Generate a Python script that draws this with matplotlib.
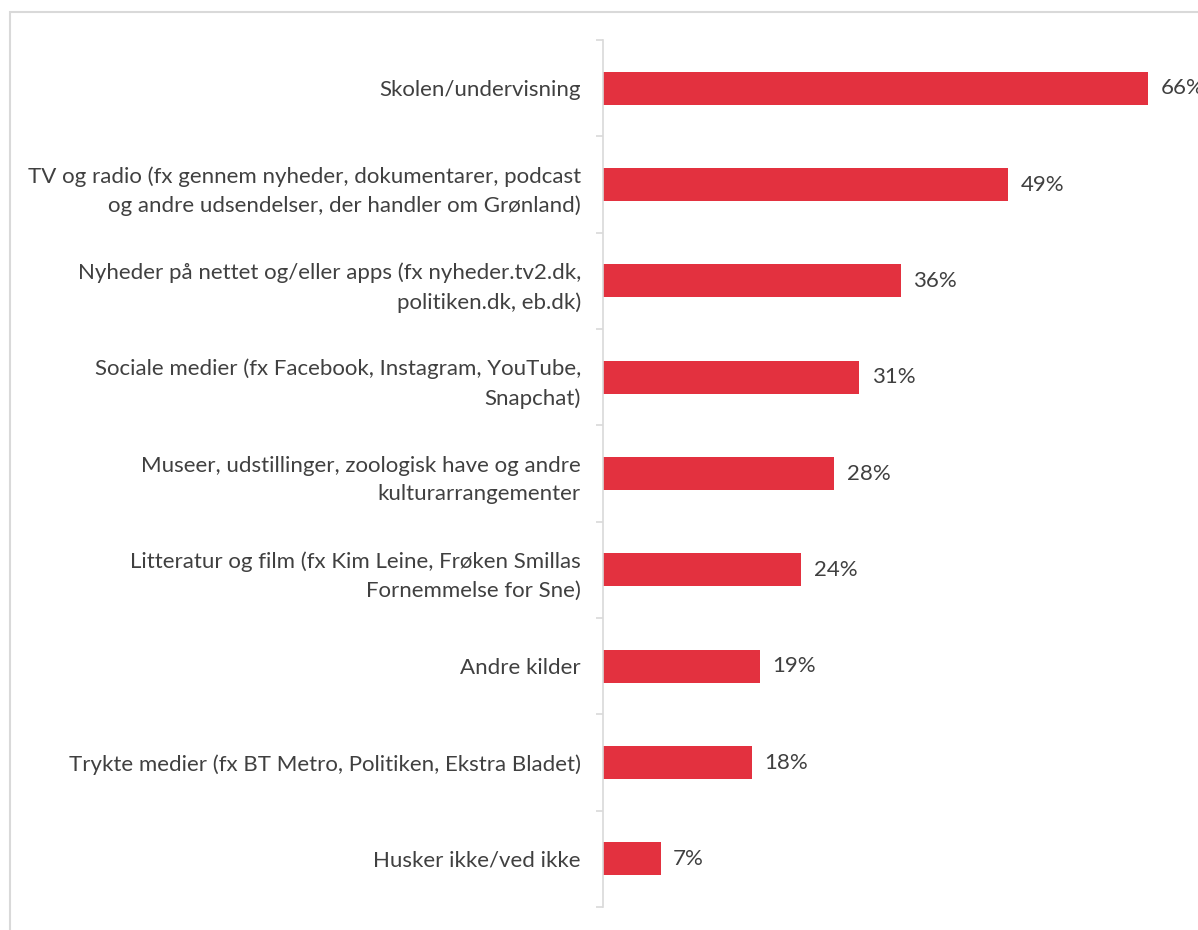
import numpy as np
import matplotlib.pyplot as plt
from matplotlib.patches import Rectangle

categories = [
    "Skolen/undervisning",
    "TV og radio (fx gennem nyheder, dokumentarer, podcast\nog andre udsendelser, der handler om Grønland)",
    "Nyheder på nettet og/eller apps (fx nyheder.tv2.dk,\npolitiken.dk, eb.dk)",
    "Sociale medier (fx Facebook, Instagram, YouTube,\nSnapchat)",
    "Museer, udstillinger, zoologisk have og andre\nkulturarrangementer",
    "Litteratur og film (fx Kim Leine, Frøken Smillas\nFornemmelse for Sne)",
    "Andre kilder",
    "Trykte medier (fx BT Metro, Politiken, Ekstra Bladet)",
    "Husker ikke/ved ikke",
]
values = [66, 49, 36, 31, 28, 24, 19, 18, 7]

BAR = "#e3313f"
TXT = "#404040"
GRID = "#d9d9d9"

plt.rcParams["font.family"] = ["Lato", "DejaVu Sans"]

fig = plt.figure(figsize=(11.98, 9.30), dpi=100)
fig.patches.append(Rectangle((10 / 1198, -0.05), 1.2, 0.05 + (930 - 12) / 930,
                             transform=fig.transFigure, fill=False,
                             edgecolor=GRID, linewidth=1.5))
ax = fig.add_axes([603 / 1198, 23 / 930, 1 - 603 / 1198, 867 / 930])

y = np.arange(len(categories))
ax.barh(y, values, height=0.34, color=BAR)
ax.set_ylim(len(categories) - 0.5, -0.5)
ax.set_xlim(0, 72)

# value labels (the 66% one runs off the right edge, as in the original)
for yi, v in zip(y, values):
    ax.text(v + 1.5, yi, f"{v}%", va="center", ha="left",
            fontsize=16, color=TXT, clip_on=False)

ax.set_yticks(y)
ax.set_yticklabels(categories, fontsize=16, color=TXT, linespacing=1.55)
ax.tick_params(axis="y", which="major", length=0, pad=16)
ax.set_yticks(np.arange(-0.5, len(categories)), minor=True)
ax.tick_params(axis="y", which="minor", length=5, width=1.2, color=GRID)
ax.set_xticks([])

for s in ["top", "right", "bottom"]:
    ax.spines[s].set_visible(False)
ax.spines["left"].set_color(GRID)
ax.spines["left"].set_linewidth(1.2)

plt.savefig("out.png", dpi=100)
